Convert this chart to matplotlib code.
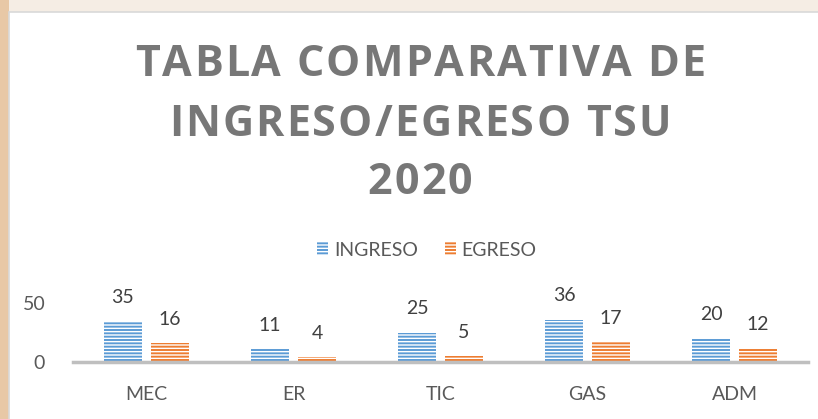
import matplotlib
matplotlib.use('Agg')

import numpy as np
import matplotlib.pyplot as plt
from matplotlib.patches import Patch, Rectangle
from matplotlib.font_manager import FontProperties, findfont, get_font

# -------------------------
# Data
# -------------------------
categories = ['MEC', 'ER', 'TIC', 'GAS', 'ADM']
ingreso = [35, 11, 25, 36, 20]
egreso = [16, 4, 5, 17, 12]
series_names = ['INGRESO', 'EGRESO']
yticks = [0, 50]
title_lines = ['TABLA COMPARATIVA DE', 'INGRESO/EGRESO TSU', '2020']

blue = '#5B9BD5'
orange = '#ED7D31'
text_gray = '#595959'

plt.rcParams['hatch.color'] = 'white'
plt.rcParams['hatch.linewidth'] = 1.0
plt.rcParams['font.family'] = ['Lato', 'DejaVu Sans']

W, H = 818, 419
fig = plt.figure(figsize=(W / 100, H / 100), dpi=100)
fig.patch.set_facecolor('#f5ede4')

# decorative strip on the left, then the white chart frame
fig.add_artist(Rectangle((0, 0), 9 / W, 1, transform=fig.transFigure,
                         facecolor='#e8c8a6', edgecolor='none', zorder=0))
fig.add_artist(Rectangle((9 / W, -0.01), 1, 1 - 12 / H + 0.01,
                         transform=fig.transFigure, facecolor='white',
                         edgecolor='#d9d9d9', linewidth=1.2, zorder=0))

# -------------------------
# Axes
# -------------------------
ax = fig.add_axes([73 / W, (H - 362) / H, 735 / W, 59 / H])
ax.set_facecolor('none')
x = np.arange(len(categories))
bw = 0.26
off = 0.16

b1 = ax.bar(x - off, ingreso, bw, color=blue, hatch='-----', linewidth=0)
b2 = ax.bar(x + off, egreso, bw, color=orange, hatch='-----', linewidth=0)

for bars, vals in ((b1, ingreso), (b2, egreso)):
    for r, v in zip(bars, vals):
        ax.annotate(str(v), (r.get_x() + r.get_width() / 2, v),
                    xytext=(0, 17), textcoords='offset points',
                    ha='center', va='center', fontsize=14,
                    color='#404040', annotation_clip=False)

ax.set_xlim(-0.5, len(categories) - 0.5)
ax.set_ylim(0, 50)
ax.set_yticks(yticks)
ax.set_xticks(x)
ax.set_xticklabels(categories)
for s in ('top', 'right', 'left'):
    ax.spines[s].set_visible(False)
ax.spines['bottom'].set_color('#BFBFBF')
ax.spines['bottom'].set_linewidth(2.5)
ax.tick_params(length=0, labelsize=14, labelcolor=text_gray)
ax.tick_params(axis='x', pad=17)
ax.tick_params(axis='y', pad=20)

# -------------------------
# Title, drawn letter by letter to get the wide tracking
# -------------------------
tsize = 31
tprop = FontProperties(family='Open Sans', weight='bold', size=tsize)
tfont = get_font(findfont(tprop))
tfont.set_size(tsize, 100)


def advances(s):
    return [tfont.load_char(ord(c)).linearHoriAdvance / 65536 for c in s]


# tracking chosen so the first line spans about 570 px
a0 = advances(title_lines[0])
track = (570 - sum(a0)) / (len(title_lines[0]) - 1)

cx = 420
for line, cy in zip(title_lines, [65, 124, 182]):
    adv = advances(line)
    total = sum(adv) + track * (len(line) - 1)
    xpos = cx - total / 2
    for c, a in zip(line, adv):
        fig.text((xpos + a / 2) / W, 1 - cy / H, c, ha='center', va='center',
                 fontproperties=tprop, color='#777777')
        xpos += a + track

# -------------------------
# Legend
# -------------------------
handles = [Patch(facecolor=blue, hatch='-----', linewidth=0),
           Patch(facecolor=orange, hatch='-----', linewidth=0)]
fig.legend(handles, series_names, loc='center', ncol=2, frameon=False,
           bbox_to_anchor=(427 / W, 1 - 250 / H), fontsize=14,
           labelcolor=text_gray, handlelength=0.55, handleheight=0.65,
           handletextpad=0.3, columnspacing=1.4)

plt.savefig('out.png', dpi=100, facecolor=fig.get_facecolor())
plt.close()
